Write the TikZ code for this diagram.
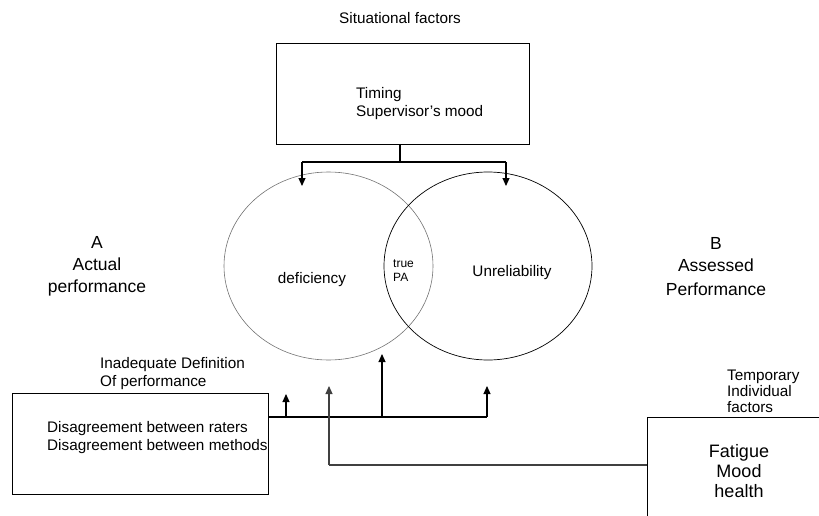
\documentclass[tikz,border=0pt]{standalone}
\usepackage{fontspec}
\setmainfont{Liberation Sans}
\usetikzlibrary{arrows.meta,shapes.geometric}
\begin{document}
\begin{tikzpicture}[x=1pt,y=-1pt,
  box/.style={draw,line width=0.9pt,inner sep=0pt},
  lbl/.style={inner sep=0pt,font=\fontsize{15.3}{18}\selectfont},
  big/.style={inner sep=0pt,align=center,font=\fontsize{17.5}{22}\selectfont},
  conn/.style={line width=1.1pt},
  arr/.style={conn,-{Triangle[length=8pt,width=7pt]}},
  grayconn/.style={line width=1.1pt,draw=black!75},
  garr/.style={grayconn,-{Triangle[length=8pt,width=7pt]}}]
\useasboundingbox (0,0) rectangle (819,516);
\clip (0,0) rectangle (819,516);
% top
\node[lbl] (sit) at (400,18) {Situational factors};
\node[box,minimum width=253pt,minimum height=101pt] (topbox) at (402.5,93.5) {};
\node[lbl,align=left,anchor=west] (toptext) at (356,104) {Timing\\Supervisor's mood};
% circles
\node[ellipse,draw=black!55,line width=0.6pt,minimum width=209pt,minimum height=188pt,inner sep=0pt] (defc) at (328.5,266) {};
\node[ellipse,draw=black,line width=0.7pt,minimum width=208pt,minimum height=188pt,inner sep=0pt] (unrc) at (488,266) {};
\node[lbl] (def) at (312,280) {deficiency};
\node[lbl,anchor=west,align=left,font=\fontsize{12}{14}\selectfont] (tpa) at (393,271) {true\\PA};
\node[lbl] (unr) at (512,273) {Unreliability};
% side labels
\node[big] (A) at (97,266) {A\\Actual\\performance};
\node[big] (B) at (716,267) {B\\Assessed\\[2pt]Performance};
% connectors from top
\coordinate (j0) at (400,144);
\coordinate (j) at (400,162);
\coordinate (jl) at (302,162);
\coordinate (jr) at (506,162);
\coordinate (tl) at (302,186);
\coordinate (tr) at (506,186);
\draw[conn] (j0) -- (j);
\draw[conn] (jl) -- (jr);
\draw[arr] (jl) -- (tl);
\draw[arr] (jr) -- (tr);
% left box
\node[lbl,anchor=west,align=left] (inad) at (100,374) {Inadequate Definition\\Of performance};
\node[box,minimum width=256pt,minimum height=101pt] (lbox) at (140,443.5) {};
\node[lbl,anchor=west,align=left] (dis) at (47,438) {Disagreement between raters\\Disagreement between methods};
% right box
\node[lbl,anchor=west,align=left,font=\fontsize{15.3}{16}\selectfont] (temp) at (727,391) {Temporary\\Individual\\factors};
\node[box,minimum width=180pt,minimum height=110pt,anchor=north west] (rbox) at (647,417) {};
\node[inner sep=0pt,align=center,font=\fontsize{18}{20}\selectfont] (fat) at (739,471) {Fatigue\\Mood\\health};
% lower connectors
\coordinate (hl) at (268,417);
\coordinate (h1) at (286,417);
\coordinate (h2) at (382,417);
\coordinate (h3) at (487,417);
\coordinate (u1) at (286,394);
\coordinate (u2) at (382,354);
\coordinate (u3) at (487,386);
\draw[conn] (hl) -- (h3);
\draw[arr] (h1) -- (u1);
\draw[arr] (h2) -- (u2);
\draw[arr] (h3) -- (u3);
\coordinate (g0) at (647,465);
\coordinate (g1) at (329,465);
\coordinate (g2) at (329,386);
\draw[grayconn] (g0) -- (g1);
\draw[garr] (g1) -- (g2);
\end{tikzpicture}
\end{document}
